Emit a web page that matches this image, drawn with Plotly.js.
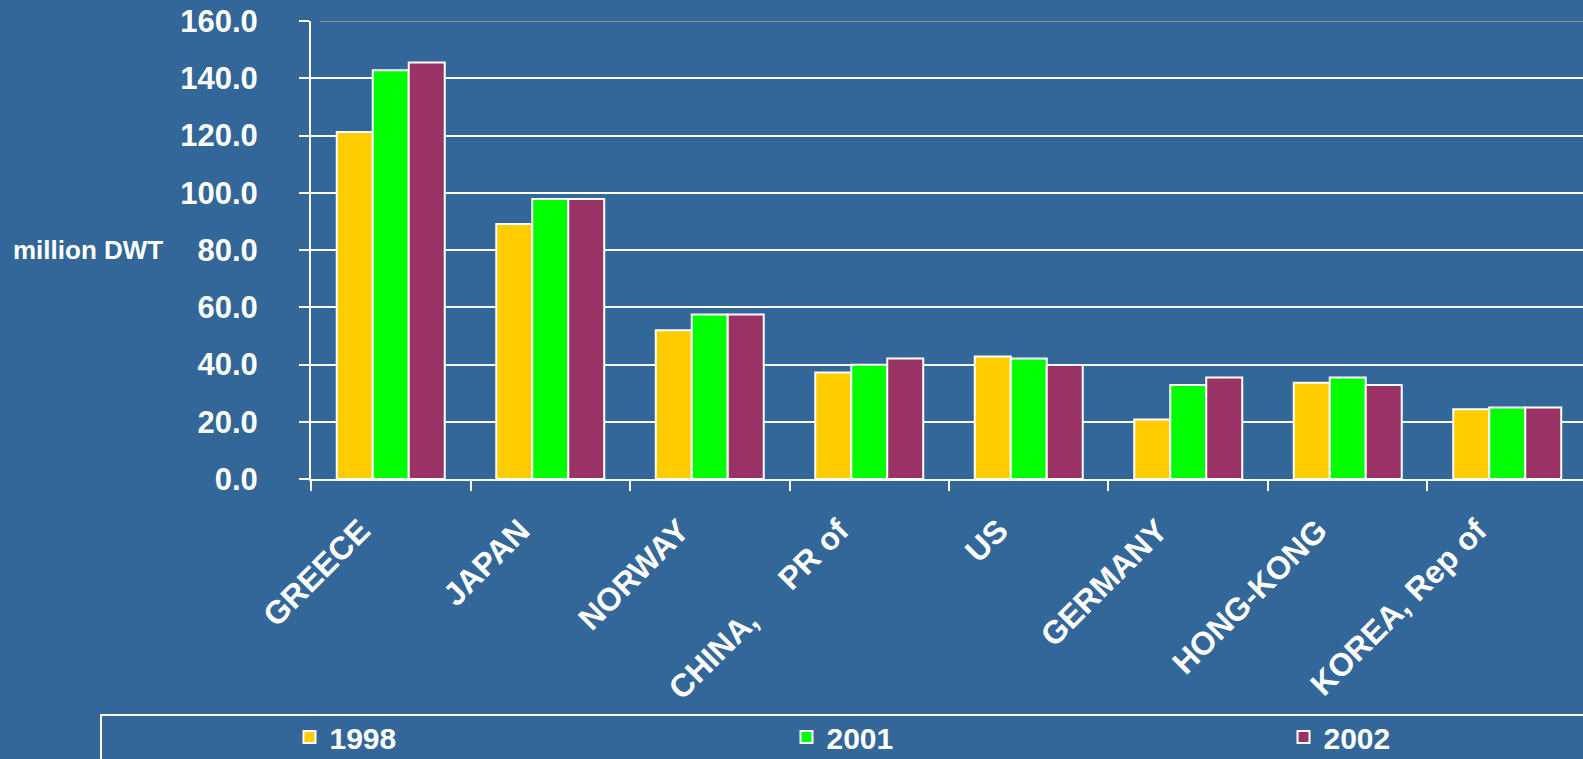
<!DOCTYPE html>
<html>
<head>
<meta charset="utf-8">
<script src="https://cdn.plot.ly/plotly-3.0.1.min.js"></script>
<style>
  html, body { margin: 0; padding: 0; background: #336699; }
  #chart { width: 1583px; height: 759px; }
</style>
</head>
<body>
<div id="chart"></div>
<script>
// Categories and series (million DWT)
const countries = ["GREECE", "JAPAN", "NORWAY", "CHINA,\u00a0\u00a0\u00a0\u00a0 PR of", "US", "GERMANY", "HONG-KONG", "KOREA, Rep of"];
const values1998 = [121.2, 89.1, 52.0, 37.2, 42.8, 20.8, 33.6, 24.4];
const values2001 = [142.8, 97.8, 57.5, 39.9, 42.1, 32.8, 35.5, 25.0];
const values2002 = [145.5, 97.8, 57.5, 42.1, 39.8, 35.5, 32.8, 25.0];
const seriesNames = ["1998", "2001", "2002"];
const yTicks = [0, 20, 40, 60, 80, 100, 120, 140, 160];
const yAxisLabel = "million DWT";

const colors = ["#FFCC00", "#00FF00", "#993366"];
const BG = "#336699";
const FONT = "Arial, 'Liberation Sans', sans-serif";

const seriesValues = [values1998, values2001, values2002];
const legends = ["legend", "legend2", "legend3"];
const traces = seriesValues.map((vals, i) => ({
  type: "bar",
  name: seriesNames[i],
  x: countries,
  y: vals,
  marker: { color: colors[i], line: { color: "#FFFFFF", width: 2 } },
  legend: legends[i],
  showlegend: true,
  hoverinfo: "x+y+name"
}));

// plot area geometry (pixels): left 311, top 21, bottom 479, right edge 1583
const W = 1583, H = 759;
const L = 311, T = 21, B = 280;
const plotW = W - L, plotH = H - T - B;
const px = x => (x - L) / plotW;
const py = y => (H - B - y) / plotH;

function legendDef(swatchCenterX) {
  return {
    visible: true,
    orientation: "h",
    xref: "container",
    yref: "container",
    x: (swatchCenterX - 20) / W,
    xanchor: "left",
    y: 1 - 737 / H,
    yanchor: "middle",
    bgcolor: "rgba(0,0,0,0)",
    borderwidth: 0,
    font: { family: FONT, size: 30, color: "#FFFFFF", weight: "bold" }
  };
}

const layout = {
  width: W,
  height: H,
  showlegend: true,
  paper_bgcolor: BG,
  plot_bgcolor: BG,
  margin: { l: L, r: 0, t: T, b: B, pad: 0, autoexpand: false },
  barmode: "group",
  bargap: 0.323,
  bargroupgap: 0,
  font: { family: FONT, color: "#FFFFFF", weight: "bold" },
  xaxis: {
    type: "category",
    range: [-0.5, 7.475],
    tickson: "boundaries",
    ticks: "outside",
    ticklen: 10,
    tickwidth: 2,
    tickcolor: "#FFFFFF",
    tickangle: -45,
    ticklabelshift: -30,
    ticklabelstandoff: 18,
    tickfont: { family: FONT, size: 32, color: "#FFFFFF", weight: "bold" },
    showline: true,
    linecolor: "#FFFFFF",
    linewidth: 2,
    showgrid: false,
    zeroline: false,
    fixedrange: true
  },
  yaxis: {
    range: [0, 160],
    tickvals: yTicks,
    tickformat: ".1f",
    ticks: "outside",
    ticklen: 10,
    tickwidth: 2,
    tickcolor: "#FFFFFF",
    ticklabelstandoff: 35,
    tickfont: { family: FONT, size: 31, color: "#FFFFFF", weight: "bold" },
    showline: true,
    linecolor: "#FFFFFF",
    linewidth: 2,
    showgrid: true,
    gridcolor: "#FFFFFF",
    gridwidth: 2,
    zeroline: false,
    fixedrange: true
  },
  legend: legendDef(309.5),
  legend2: legendDef(806.5),
  legend3: legendDef(1303.5),
  shapes: [
    { type: "line", xref: "paper", yref: "y", x0: px(320), x1: 1, y0: 160, y1: 160,
      line: { color: "#8C8C8C", width: 2 }, layer: "above" },
    { type: "rect", xref: "paper", yref: "paper", x0: px(101), x1: px(1600), y0: py(715), y1: py(775),
      line: { color: "#FFFFFF", width: 2 }, fillcolor: "rgba(0,0,0,0)", layer: "above" }
  ],
  annotations: [
    { text: yAxisLabel, xref: "paper", yref: "y", x: px(11), y: 80, xanchor: "left", yanchor: "middle",
      showarrow: false, font: { family: FONT, size: 26, color: "#FFFFFF", weight: "bold" } }
  ]
};

Plotly.newPlot("chart", traces, layout, { displayModeBar: false, staticPlot: true });
</script>
</body>
</html>
